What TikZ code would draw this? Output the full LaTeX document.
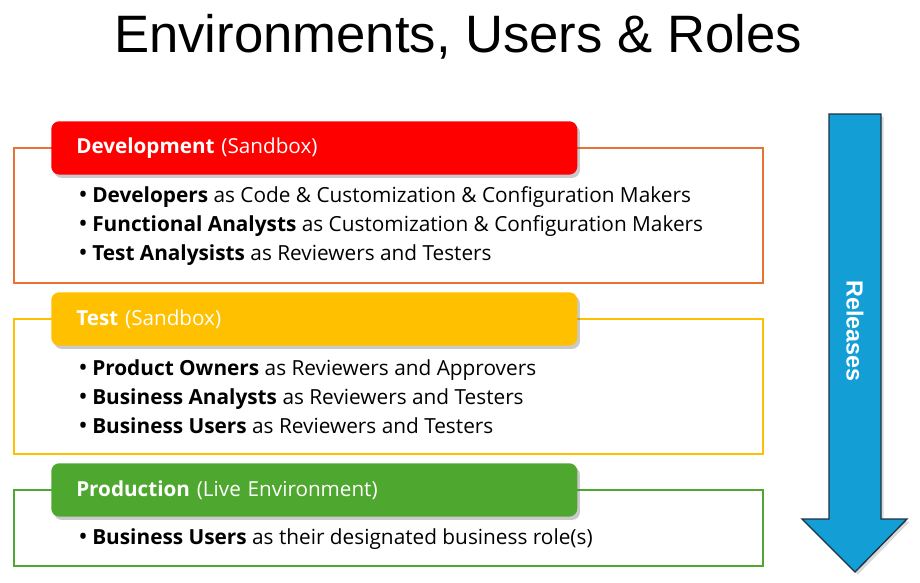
\documentclass[tikz,border=0pt]{standalone}
\usepackage{fontspec}
\setmainfont{Open Sans}
\newfontfamily\titlefont{Liberation Sans}
\usepackage{tikz}
\definecolor{envRed}{RGB}{255,0,0}
\definecolor{envOrange}{RGB}{233,113,50}
\definecolor{envYellow}{RGB}{255,192,0}
\definecolor{envGreen}{RGB}{78,167,46}
\definecolor{envBlue}{RGB}{20,158,214}
\definecolor{envNavy}{RGB}{30,50,65}
\usetikzlibrary{shadows, positioning, calc}
\tikzstyle{envFrame} = [draw, line width=1.5pt]
\tikzstyle{envHeader} = [rectangle, rounded corners=6pt, anchor=north west, minimum width=394.5pt, minimum height=40pt, inner xsep=18.75pt, text width=357pt, align=left, text=white, font=\fontsize{15.5}{18}\selectfont, drop shadow={shadow xshift=2pt, shadow yshift=-2.5pt, opacity=0.35, fill=black!60}]
\tikzstyle{envList} = [anchor=west, align=left, inner sep=0pt, font=\fontsize{15.6}{21.75}\selectfont]
\newcommand{\bul}{\makebox[10.5pt][l]{\raisebox{-0.05em}{\fontsize{19}{19}\selectfont\textbullet}}}

\begin{document}
\begin{tikzpicture}[x=0.75pt, y=-0.75pt]
        \useasboundingbox (0,0) rectangle (920,582);
        % Title
        \node [font=\titlefont\fontsize{39.5}{48}\selectfont] (title) at (458,37) {Environments, Users \& Roles};

        % Frames
        \draw [envFrame, envOrange] (14,148) rectangle (763,283);
        \draw [envFrame, envYellow] (14,319) rectangle (763,454);
        \draw [envFrame, envGreen] (14,490) rectangle (763,566);

        % Headers
        \node [envHeader, fill=envRed] (dev) at (51,121) {\textbf{Development} (Sandbox)};
        \node [envHeader, fill=envYellow] (test) at (51,292) {\textbf{Test} (Sandbox)};
        \node [envHeader, fill=envGreen] (prod) at (51,463) {\textbf{Production} (Live Environment)};

        % Lists
        \node [envList] (devList) at (78,226) {\bul\textbf{Developers} as Code \& Customization \& Configuration Makers\\
            \bul\textbf{Functional Analysts} as Customization \& Configuration Makers\\
            \bul\textbf{Test Analysists} as Reviewers and Testers};
        \node [envList] (testList) at (78,397) {\bul\textbf{Product Owners} as Reviewers and Approvers\\
            \bul\textbf{Business Analysts} as Reviewers and Testers\\
            \bul\textbf{Business Users} as Reviewers and Testers};
        \node [envList] (prodList) at (78,539) {\bul\textbf{Business Users} as their designated business role(s)};

        % Arrow
        \draw [fill=envBlue, draw=envNavy, line width=1pt, drop shadow={shadow xshift=2pt, shadow yshift=-2pt, opacity=0.3}]
            (829,114) -- (881,114) -- (881,519) -- (907,519) -- (855,572) -- (802,519) -- (829,519) -- cycle;
        \node [rotate=-90, text=white, font=\titlefont\bfseries\fontsize{17.5}{20}\selectfont] (rel) at (855,331) {Releases};
\end{tikzpicture}
\end{document}
